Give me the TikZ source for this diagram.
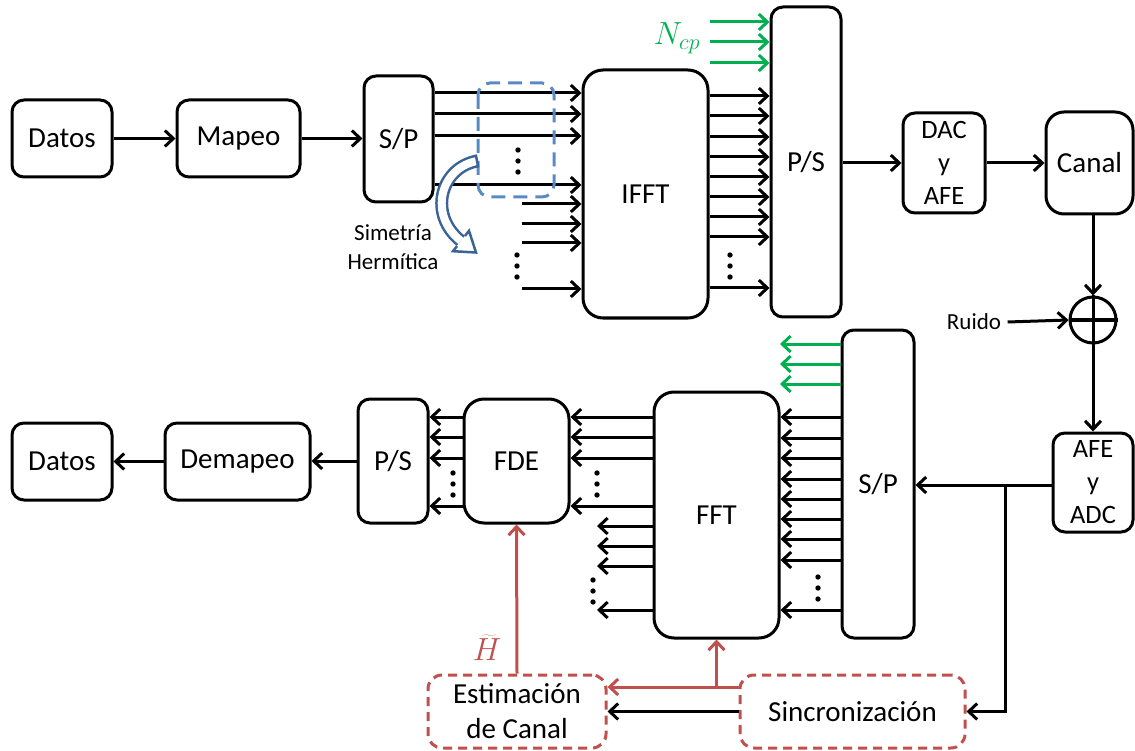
\RequirePackage{fix-cm}
\documentclass[tikz,border=0pt]{standalone}
\usepackage{fontspec}
\setmainfont{Carlito}
\usetikzlibrary{arrows.meta}
\definecolor{cgreen}{HTML}{00B050}
\definecolor{cred}{HTML}{C0504D}
\definecolor{cblue}{HTML}{5A8AC6}
\definecolor{cdblue}{HTML}{3A6496}
\newcommand\myfA{\fontsize{29}{35}\selectfont}
\newcommand\myfB{\fontsize{26.5}{33}\selectfont}
\newcommand\myfC{\fontsize{23}{29}\selectfont}
\newcommand\myfD{\fontsize{32}{38}\selectfont}
\begin{document}
\begin{tikzpicture}[x=1pt,y=-1pt, line width=3pt,
  >={Straight Barb[length=8.5pt,width=16pt]},
  box/.style={draw, line width=3pt, rounded corners=12pt, align=center, inner sep=0pt, font=\myfA},
  bigbox/.style={box, rounded corners=20pt},
  dbox/.style={draw=cred, line width=3pt, dash pattern=on 9pt off 6pt, rounded corners=14pt, align=center, inner sep=0pt, font=\myfA},
  conn/.style={->, line width=3pt}]
\useasboundingbox (0,0) rectangle (1135,751);

% ---- transmitter ----
\node[box, minimum width=100pt, minimum height=77pt] (datosA) at (62,138.5) {Datos};
\node[box, minimum width=123pt, minimum height=77pt] (mapeo) at (238.5,138.5) {Mapeo};
\node[box, minimum width=69pt, minimum height=126pt] (spA) at (398.5,139) {S/P};
\node[bigbox, minimum width=125pt, minimum height=248pt] (ifft) at (645.5,194) {IFFT};
\node[box, minimum width=70pt, minimum height=310pt] (psA) at (806,162) {P/S};
\node[box, font=\myfB, minimum width=82pt, minimum height=100pt] (dac) at (944,163) {DAC\\y\\AFE};
\node[box, rounded corners=18pt, minimum width=87pt, minimum height=102pt] (canal) at (1089.5,163) {Canal};
\node[draw, line width=3pt, circle, minimum size=46pt, inner sep=0pt] (sum) at (1093,320) {};
\draw[line width=3pt] (sum.north) -- (sum.south) (sum.west) -- (sum.east);
\node[font=\myfC, inner sep=5pt] (ruido) at (974,322) {Ruido};
\node[box, font=\myfB, minimum width=80pt, minimum height=99pt] (afe) at (1093,482.5) {AFE\\y\\ADC};

\draw[conn] (datosA) -- (mapeo);
\draw[conn] (mapeo) -- (mapeo -| spA.west);
\coordinate (symstart) at (522,0);
\foreach \y in {93,114,136,185} \draw[conn] (spA.east |- 0,\y) -- (ifft.west |- 0,\y);
\foreach \y in {204,224,243,289} \draw[conn] (symstart |- 0,\y) -- (ifft.west |- 0,\y);
\foreach \y in {150,161,172} \fill (518,\y) circle (2.7pt);
\foreach \y in {255,266,277} \fill (517,\y) circle (2.7pt);
\foreach \y in {96,116,137,157,177,197,217,237,288} \draw[conn] (ifft.east |- 0,\y) -- (psA.west |- 0,\y);
\foreach \y in {255,266,277} \fill (730,\y) circle (2.7pt);
\foreach \y in {22,42,63} \draw[conn, cgreen] (ifft.east |- 0,\y) -- (psA.west |- 0,\y);
\node[text=cgreen, font=\myfD] (ncp) at (677,38) {$N_{cp}$};
\draw[conn] (psA.east |- dac.west) -- (dac.west);
\draw[conn] (dac.east) -- (canal.west |- dac.east);
\draw[conn] (sum |- canal.south) -- (sum.north);
\draw[conn] (ruido.east) -- (sum.west);
\draw[conn] (sum.south) -- (sum |- afe.north);

% dashed symmetric box
\draw[cblue, line width=3pt, dash pattern=on 14pt off 8pt, rounded corners=12pt] (478,83) rectangle (554,197);

% curved arrow
\draw[cdblue, line width=13pt] (477,161) .. controls (440,168) and (428,215) .. (461,241);
\draw[white, line width=8pt] (477,161) .. controls (440,168) and (428,215) .. (461,241);
\draw[cdblue, line width=2.5pt] (478.2,167.4) -- (475.8,154.6);
\filldraw[fill=white, draw=cdblue, line width=2.5pt, line join=miter] (465.0,235.9) -- (469,230.8) -- (476,252.5) -- (453,251.2) -- (457,246.1);
\node[font=\myfC, align=center] (simtxt) at (393,247) {Simetría\\Hermítica};

% ---- receiver ----
\node[box, minimum width=72pt, minimum height=308pt] (spB) at (878,484) {S/P};
\node[bigbox, minimum width=125pt, minimum height=246pt] (fft) at (716.5,515) {FFT};
\node[bigbox, minimum width=105pt, minimum height=124pt] (fde) at (516.5,461) {FDE};
\node[box, minimum width=70pt, minimum height=124pt] (psB) at (393,461) {P/S};
\node[box, minimum width=145pt, minimum height=77pt] (demapeo) at (237.5,461.5) {Demapeo};
\node[box, minimum width=100pt, minimum height=77pt] (datosB) at (62,461.5) {Datos};
\node[dbox, minimum width=178pt, minimum height=73pt] (est) at (517,711.5) {Estimación\\de Canal};
\node[dbox, minimum width=225pt, minimum height=73pt] (sinc) at (852.5,711.5) {Sincronización};

\coordinate (br) at (1005,485);
\draw[conn] (afe.west |- br) -- (spB.east |- br);
\draw[conn] (br) |- (sinc.east);
\foreach \y in {417,438,458,479,499,519,539,560,610} \draw[conn] (spB.west |- 0,\y) -- (fft.east |- 0,\y);
\foreach \y in {577,588,599} \fill (818,\y) circle (2.7pt);
\coordinate (gend) at (780,0);
\foreach \y in {344,364,384} \draw[conn, cgreen] (spB.west |- 0,\y) -- (gend |- 0,\y);
\foreach \y in {417,437,458,506} \draw[conn] (fft.west |- 0,\y) -- (fde.east |- 0,\y);
\foreach \y in {473,484,495} \fill (597,\y) circle (2.7pt);
\coordinate (fftend) at (597,0);
\foreach \y in {526,546,566,610} \draw[conn] (fft.west |- 0,\y) -- (fftend |- 0,\y);
\foreach \y in {580,591,602} \fill (593,\y) circle (2.7pt);
\foreach \y in {417,437,458,506} \draw[conn] (fde.west |- 0,\y) -- (psB.east |- 0,\y);
\foreach \y in {473,484,495} \fill (453,\y) circle (2.7pt);
\draw[conn] (psB.west) -- (psB.west -| demapeo.east);
\draw[conn] (demapeo.west) -- (demapeo.west -| datosB.east);

\draw[conn, cred] (sinc.west |- 0,687) -- (est.east |- 0,687);
\draw[conn, cred] (fft.south |- 0,687) -- (fft.south);
\draw[conn, cred] (est.north) -- (fde.south);
\draw[conn] (sinc.west) -- (est.east |- sinc.west);
\node[text=cred, font=\myfD] (htil) at (487,648) {$\widetilde{H}$};
\end{tikzpicture}
\end{document}
